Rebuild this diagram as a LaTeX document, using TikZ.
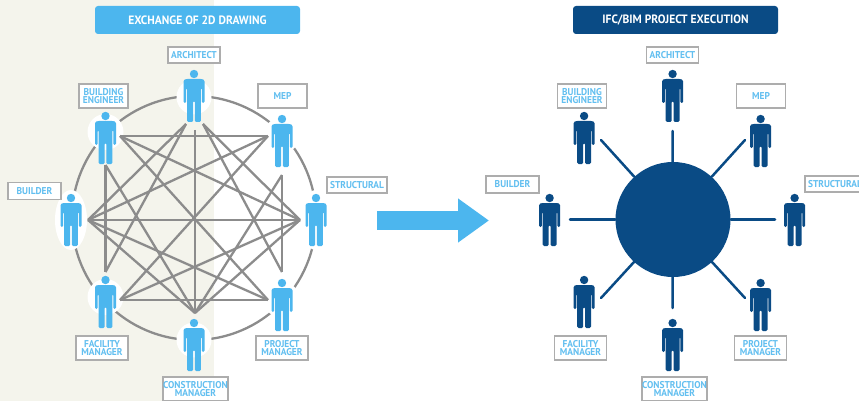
\documentclass[tikz,border=0pt]{standalone}
\usepackage{fontspec}
\setmainfont{PT Sans}[FakeStretch=0.95]
\usetikzlibrary{arrows.meta,shapes.geometric}

\definecolor{paleback}{HTML}{F4F4EC}
\definecolor{skyblue}{HTML}{4CB6EE}
\definecolor{navyblue}{HTML}{0A4B85}
\definecolor{wiregray}{HTML}{8C8C8C}
\definecolor{tagborder}{HTML}{ADADAD}
\definecolor{tagtext}{HTML}{62BFF0}

\begin{document}
\begin{tikzpicture}
   [
      x=1pt, y=-1pt,
      person/.pic={
         \fill[pic actions] (0,0) circle [radius=4.2];
         \fill[pic actions, rounded corners=1.3pt]
            (-10.5,29) -- (-10.5,6) -- (-8,5) -- (8,5) -- (10.5,6) -- (10.5,29)
            -- (7.8,29) -- (7.8,14) -- (6.9,14) -- (6.9,48) -- (0.9,48)
            -- (0.9,27) -- (-0.9,27) -- (-0.9,48) -- (-6.9,48) -- (-6.9,14)
            -- (-7.8,14) -- (-7.8,29) -- cycle;
      },
      title/.style={rectangle, rounded corners=3pt, minimum width=205pt,
      minimum height=28pt, inner sep=0pt, text=white, font=\fontsize{12.1}{12}\selectfont\bfseries},
      tag/.style={rectangle, draw=tagborder, line width=1.3pt, fill=white, inner sep=0pt,
      text=tagtext, align=center, font=\fontsize{9.9}{8.2}\selectfont\bfseries},
      halo/.style={ellipse, fill=white, inner sep=0pt},
      wire/.style={draw=wiregray, line width=2.3pt},
      spoke/.style={draw=navyblue, line width=2.5pt, line cap=round}
   ]
   \useasboundingbox (0,0) rectangle (859,401);
   \clip (0,0) rectangle (859,401);
   \fill[paleback] (0,0) rectangle (214,401);

   \node[title, fill=skyblue] (titleold) at (197.5,20) {EXCHANGE OF 2D DRAWING};
   \node[title, fill=navyblue] (titlenew) at (675.5,20) {IFC/BIM PROJECT EXECUTION};

   \draw[wire] (194,218) circle [radius=122];

   \foreach \name/\x/\y/\w/\h in {
      archhalo/194/97/35/35, enghalo/105.5/132/36/36, mephalo/282/135/36/36,
      bldhalo/71/220/32/60, strhalo/316/220/32/60, fachalo/105.5/297/36/36,
      pmhalo/282/300/36/36, conhalo/194/340/35/35}
      \node[halo, minimum width=\w pt, minimum height=\h pt] (\name) at (\x,\y) {};

   \foreach \name/\x/\y in {
      archmid/195/130, archleft/186/124, archright/203/124,
      engright/120/136, engdown/105.5/165, mepleft/268/136, mepdown/282/175,
      bldright/88/220, strleft/300/220, facright/120/300, facup/105.5/272,
      pmleft/268/300, pmup/282/272, conup/195/313}
      \coordinate (\name) at (\x,\y);

   \foreach \a/\b in {
      archmid/conup, archleft/bldright, archright/strleft, archleft/facup, archright/pmup,
      engright/mepleft, engdown/facup, engright/strleft, engright/pmleft, engdown/conup,
      mepdown/pmup, mepleft/bldright, mepleft/facright, mepdown/conup,
      strleft/bldright, strleft/facright, strleft/conup,
      bldright/pmleft, bldright/conup, facright/pmleft}
      \draw[wire] (\a) -- (\b);

   \foreach \col/\off in {skyblue/0, navyblue/478.6}
      \foreach \x/\y in {194/74, 105.5/116, 282/119, 71/198, 316/198, 105.5/280, 282/283, 194/323}
         \pic[fill=\col] at (\x+\off,\y) {person};

   \coordinate (arrowtail) at (377,220.5);
   \coordinate (arrowtip) at (489,220.5);
   \draw[skyblue, line width=19pt, -{Triangle[length=31pt,width=42pt]}] (arrowtail) -- (arrowtip);

   \node[circle, fill=navyblue, minimum size=115pt, inner sep=0pt] (hub) at (673,219.5) {};
   \foreach \x/\y [count=\i] in {672.5/131, 601/140, 745/140, 570/219.5, 775/219.5, 601/298, 745/298, 672.5/308} {
      \coordinate (spokeend\i) at (\x,\y);
      \draw[spoke] (spokeend\i) -- (hub);
   }

   \foreach \name/\x/\y/\w/\h/\txt in {
      archtag/194/55/52/16/ARCHITECT,
      engtag/103.5/96/49/24/{BUILDING\\ENGINEER},
      meptag/282.5/96/49/24/MEP,
      bldtag/34.5/191/53/17/BUILDER,
      strtag/357/185/60/16/STRUCTURAL,
      factag/102/348/52/24/{FACILITY\\MANAGER},
      pmtag/282/348/52/24/{PROJECT\\MANAGER},
      contag/195.5/389/65/24/{CONSTRUCTION\\MANAGER},
      archtagb/672.5/55/52/16/ARCHITECT,
      engtagb/582/96/49/24/{BUILDING\\ENGINEER},
      meptagb/761/96/49/24/MEP,
      bldtagb/512.5/184.5/53/17/BUILDER,
      strtagb/835/184/60/16/STRUCTURAL,
      factagb/580.5/348/52/24/{FACILITY\\MANAGER},
      pmtagb/760.5/348/52/24/{PROJECT\\MANAGER},
      contagb/674.5/389/65/24/{CONSTRUCTION\\MANAGER}}
      \node[tag, minimum width=\w pt, minimum height=\h pt] (\name) at (\x,\y) {\txt};
\end{tikzpicture}
\end{document}
